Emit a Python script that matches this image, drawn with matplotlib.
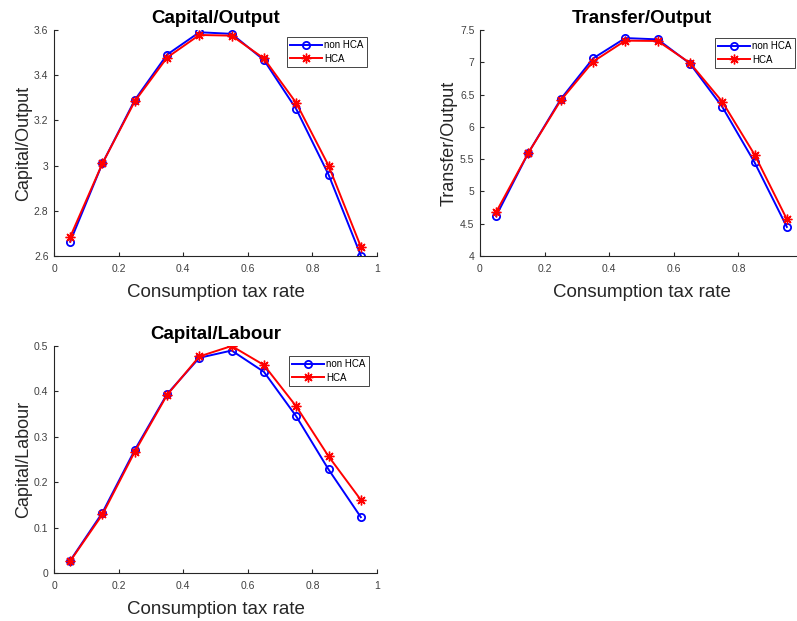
import matplotlib
matplotlib.use("Agg")
import matplotlib.pyplot as plt
from matplotlib.ticker import FuncFormatter

plt.rcParams['font.family'] = ['Liberation Sans', 'DejaVu Sans']

# Consumption tax rate grid
tax_rate = [0.05, 0.15, 0.25, 0.35, 0.45, 0.55, 0.65, 0.75, 0.85, 0.95]

# Capital/Output ratio
ky_non_hca = [2.663, 3.010, 3.290, 3.491, 3.590, 3.583, 3.467, 3.250, 2.960, 2.602]
ky_hca     = [2.684, 3.010, 3.284, 3.478, 3.578, 3.575, 3.474, 3.277, 3.000, 2.641]

# Transfer/Output ratio
ty_non_hca = [4.62, 5.60, 6.43, 7.06, 7.375, 7.355, 6.98, 6.31, 5.45, 4.45]
ty_hca     = [4.68, 5.60, 6.41, 7.01, 7.335, 7.330, 6.99, 6.39, 5.57, 4.57]

# Capital/Labour ratio
kl_non_hca = [0.027, 0.133, 0.271, 0.394, 0.474, 0.490, 0.443, 0.345, 0.228, 0.123]
kl_hca     = [0.026, 0.129, 0.267, 0.392, 0.477, 0.500, 0.458, 0.367, 0.257, 0.161]

series_labels = ["non HCA", "HCA"]
x_ticks = [0, 0.2, 0.4, 0.6, 0.8, 1.0]

W, H = 797, 621
fig = plt.figure(figsize=(W / 100, H / 100), dpi=100)

def px_axes(left, top, right, bottom):
    return fig.add_axes([left / W, 1 - bottom / H, (right - left) / W, (bottom - top) / H])

gfmt = FuncFormatter(lambda v, p: f"{v:g}")
axis_col = '#262626'
tick_col = '#404040'

def panel(ax, y1, y2, title, ylim, yticks, legend_anchor, xticks=x_ticks):
    ax.plot(tax_rate, y1, color=(0, 0, 1), lw=1.4, marker='o', ms=5.2,
            mfc='none', mec=(0, 0, 1), mew=1.3, label=series_labels[0])
    ax.plot(tax_rate, y2, color=(1, 0, 0), lw=1.4, marker=(8, 2, 0), ms=7,
            mec=(1, 0, 0), mew=1.0, label=series_labels[1])
    ax.set_xlim(0, 1)
    ax.set_ylim(*ylim)
    ax.set_xticks(xticks)
    ax.set_yticks(yticks)
    ax.xaxis.set_major_formatter(gfmt)
    ax.yaxis.set_major_formatter(gfmt)
    for s in ['top', 'right']:
        ax.spines[s].set_visible(False)
    for s in ['left', 'bottom']:
        ax.spines[s].set_color(axis_col)
        ax.spines[s].set_linewidth(0.8)
    ax.tick_params(direction='in', length=3, width=0.8, color=axis_col,
                   labelsize=7.5, labelcolor=tick_col)
    ax.tick_params(axis='x', pad=6)
    ax.tick_params(axis='y', pad=4)
    ax.set_title(title, fontsize=13.5, fontweight='bold', pad=5, color='black')
    ax.set_xlabel("Consumption tax rate", fontsize=13.5, color=axis_col, labelpad=7)
    ax.set_ylabel(title, fontsize=13, color=axis_col, labelpad=1.5)
    leg = ax.legend(loc='upper right', bbox_to_anchor=legend_anchor, fontsize=7,
                    handlelength=3.3, handletextpad=0.2, borderpad=0.35,
                    labelspacing=0.35, borderaxespad=0, fancybox=False,
                    framealpha=1, edgecolor=axis_col)
    leg.get_frame().set_linewidth(0.6)

ax1 = px_axes(54, 30, 377, 256)
panel(ax1, ky_non_hca, ky_hca, "Capital/Output", (2.6, 3.6),
      [2.6, 2.8, 3.0, 3.2, 3.4, 3.6], (0.969, 0.969))

# right-hand panel runs past the figure edge, so its last tick is not labelled
ax2 = px_axes(480, 30, 803, 256)
panel(ax2, ty_non_hca, ty_hca, "Transfer/Output", (4, 7.5),
      [4, 4.5, 5, 5.5, 6, 6.5, 7, 7.5], (0.975, 0.965), xticks=x_ticks[:-1])

ax3 = px_axes(54, 346, 377, 573)
panel(ax3, kl_non_hca, kl_hca, "Capital/Labour", (0, 0.5),
      [0, 0.1, 0.2, 0.3, 0.4, 0.5], (0.975, 0.957))

fig.savefig("out.png", dpi=100)
